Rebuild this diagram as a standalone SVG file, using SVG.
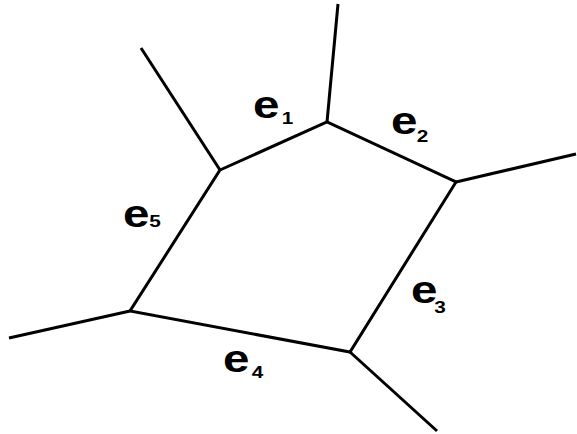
<svg xmlns="http://www.w3.org/2000/svg" width="577" height="434" viewBox="0 0 577 434">
<style>
.l{stroke:#000;stroke-width:3;fill:none;stroke-linecap:butt;stroke-linejoin:miter}
.e{font-family:"Liberation Sans",Arial,sans-serif;font-weight:bold;font-size:39px;fill:#000}
.s{font-family:"Liberation Sans",Arial,sans-serif;font-weight:bold;font-size:16px;fill:#000;text-anchor:middle}
</style>
<rect width="577" height="434" fill="#fff"/>
<g id="connectors">
<polygon class="l" points="220,170 327,122 456,182 350,352 130,311"/>
<line class="l" x1="220" y1="170" x2="141" y2="48"/>
<line class="l" x1="327" y1="122" x2="338" y2="4"/>
<line class="l" x1="456" y1="182" x2="576" y2="154"/>
<line class="l" x1="350" y1="352" x2="437" y2="431"/>
<line class="l" x1="130" y1="311" x2="9" y2="338"/>
</g>
<g id="e1"><text class="e" transform="translate(253,118) scale(1.22,1)">e</text><text class="s" transform="translate(287.5,124) scale(1.3,1)">1</text></g>
<g id="e2"><text class="e" transform="translate(391,134) scale(1.22,1)">e</text><text class="s" transform="translate(422.5,142) scale(1.3,1)">2</text></g>
<g id="e5"><text class="e" transform="translate(123,227) scale(1.22,1)">e</text><text class="s" transform="translate(155,227) scale(1.3,1)">5</text></g>
<g id="e3"><text class="e" transform="translate(411,303) scale(1.22,1)">e</text><text class="s" transform="translate(440,313) scale(1.3,1)">3</text></g>
<g id="e4"><text class="e" transform="translate(223,372) scale(1.22,1)">e</text><text class="s" transform="translate(257.5,378) scale(1.3,1)">4</text></g>
</svg>
